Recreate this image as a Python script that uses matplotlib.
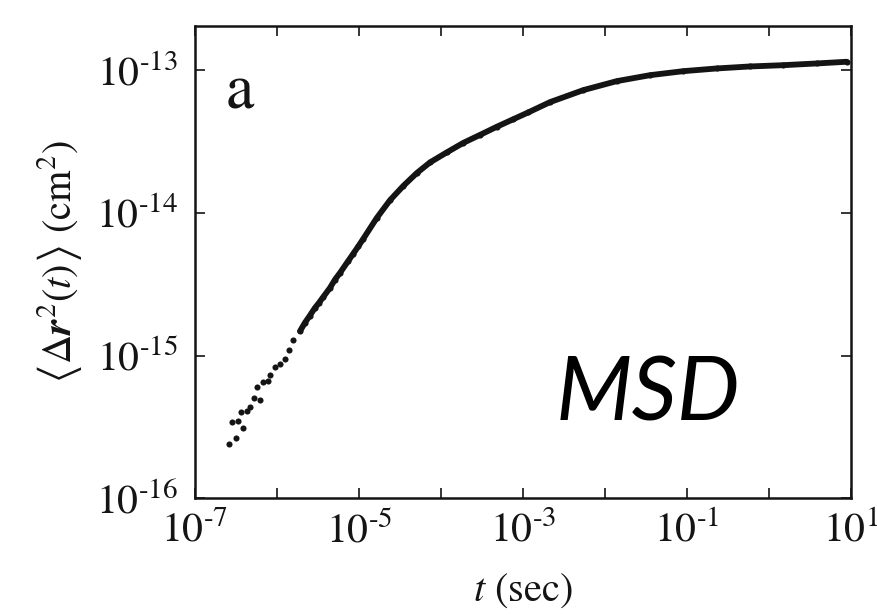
import matplotlib
matplotlib.use("Agg")
import matplotlib.pyplot as plt
import numpy as np
from matplotlib.ticker import FixedLocator, FuncFormatter, NullLocator

# MSD values, stored as log10 (t in sec, MSD in cm^2)
log_t = [-6.585, -6.504, -6.545, -6.480, -6.41, -6.44, -6.37, -6.33, -6.277,
         -6.207, -6.248, -6.167, -6.106, -6.085, -6.024, -5.963, -5.90, -5.853,
         -5.80, -5.72, -5.66, -5.60, -5.537, -5.488, -5.435, -5.354, -5.293,
         -5.232, -5.13, -5.07, -5.01,
         -4.947, -4.784, -4.622, -4.46, -4.296, -4.134, -3.93, -3.728, -3.524,
         -3.32, -3.118, -2.935, -2.67, -2.265, -1.857, -1.45, -1.045, -0.638,
         -0.232, 0.174, 0.58, 0.947]
log_msd = [-15.618, -15.580, -15.468, -15.461, -15.508, -15.398, -15.391, -15.363,
           -15.297, -15.309, -15.22, -15.187, -15.18, -15.14, -15.08, -15.063,
           -15.028, -14.958, -14.888, -14.829, -14.77, -14.72, -14.665, -14.63,
           -14.588, -14.525, -14.467, -14.42, -14.335, -14.285, -14.235,
           -14.18, -14.035, -13.91, -13.81, -13.72, -13.645, -13.575, -13.508,
           -13.452, -13.395, -13.342, -13.294, -13.222, -13.138, -13.075, -13.033,
           -13.005, -12.986, -12.972, -12.963, -12.951, -12.939]

x_decades = [-7, -6, -5, -4, -3, -2, -1, 0, 1]
x_labeled = [-7, -5, -3, -1, 1]
y_decades = [-16, -15, -14, -13]

plt.rcParams["font.family"] = "STIXGeneral"
plt.rcParams["mathtext.fontset"] = "stix"

t = 10.0 ** np.array(log_t)
msd = 10.0 ** np.array(log_msd)
ink = "#141414"

fig = plt.figure(figsize=(8.77, 6.15), dpi=100)
ax = fig.add_axes([0.2224, 0.1902, 0.748, 0.7675])

ax.plot(t, msd, "o", ms=4.4, color=ink, mec="none")
dense = t > 10 ** -5.75
order = np.argsort(t[dense])
ax.plot(t[dense][order], msd[dense][order], "-", lw=4.2, color=ink,
        solid_capstyle="round", solid_joinstyle="round")

ax.set_xscale("log")
ax.set_yscale("log")
ax.set_xlim(1e-7, 1e1)
ax.set_ylim(1e-16, 2.05e-13)

ax.xaxis.set_major_locator(FixedLocator([10.0 ** d for d in x_decades]))
ax.yaxis.set_major_locator(FixedLocator([10.0 ** d for d in y_decades]))
ax.xaxis.set_minor_locator(NullLocator())
ax.yaxis.set_minor_locator(NullLocator())


def dec_label(v, pos, keep=None):
    e = int(round(np.log10(v)))
    if keep is not None and e not in keep:
        return ""
    if e < 0:
        return r"$10^{\text{-}%d}$" % (-e)
    return r"$10^{%d}$" % e


ax.xaxis.set_major_formatter(FuncFormatter(lambda v, p: dec_label(v, p, x_labeled)))
ax.yaxis.set_major_formatter(FuncFormatter(lambda v, p: dec_label(v, p)))

ax.tick_params(which="major", direction="in", length=7, width=1.2,
               top=True, right=True, labelsize=30, color=ink, labelcolor=ink)
ax.tick_params(axis="y", pad=12)
ax.tick_params(axis="x", pad=10)
for sp in ax.spines.values():
    sp.set_linewidth(1.8)
    sp.set_color(ink)

ax.set_xlabel(r"$t$ (sec)", fontsize=29, color=ink)
ax.xaxis.set_label_coords(0.5, -0.155)
ax.set_ylabel(r"$\left\langle\Delta\boldsymbol{r}^{2}_{\,}(t)\right\rangle$ (cm$^{2}$)",
              fontsize=29, color=ink)
ax.yaxis.set_label_coords(-0.17, 0.5)

ax.text(0.046, 0.826, "a", transform=ax.transAxes, fontsize=46,
        va="baseline", ha="left", color=ink)
ax.text(0.549, 0.165, "MSD", transform=ax.transAxes, fontsize=64,
        family="Lato", style="italic", va="baseline", ha="left", color="black")

fig.savefig("out.png", dpi=100)
